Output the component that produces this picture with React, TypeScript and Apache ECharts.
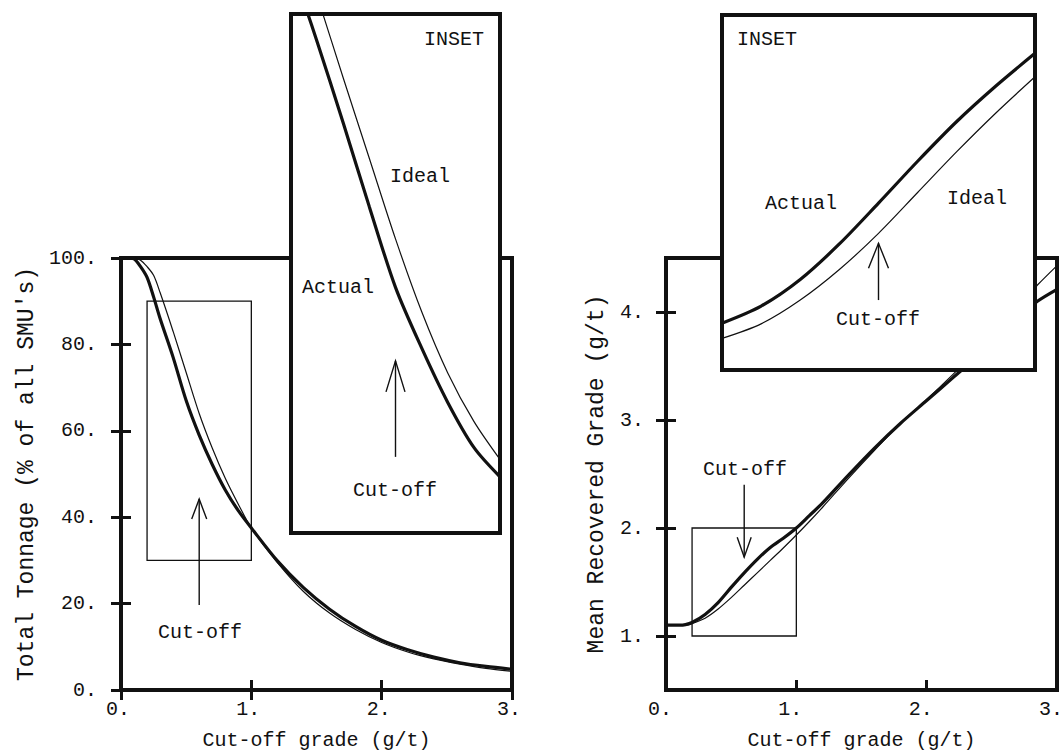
import React, { useEffect, useRef } from 'react';
import * as echarts from 'echarts';

// ---------- data ----------
// Left panel: total tonnage vs cut-off grade
const tonnageX = [0, 0.05, 0.1, 0.15, 0.2, 0.25, 0.3, 0.4, 0.5, 0.6, 0.7, 0.8, 0.9, 1.0, 1.2, 1.4, 1.6, 1.8, 2.0, 2.2, 2.4, 2.6, 2.8, 3.0];
const tonnageActual = [100, 100, 99.8, 98, 95.5, 91, 86, 77, 67, 59, 52.2, 46.3, 41.5, 37.5, 29.9, 23.7, 18.7, 14.7, 11.5, 9.3, 7.6, 6.3, 5.45, 4.8];
const tonnageIdeal = [100, 100, 100, 99.5, 98, 96, 92, 83, 73.5, 64, 56, 49, 43, 37.5, 29.5, 22.8, 17.8, 14.0, 11.0, 8.8, 7.2, 6.0, 5.0, 4.3];

// Left inset (zoom of box 0.2-1.0 x 30-90)
const tonnageInsetX = [0.25, 0.3, 0.4, 0.5, 0.6, 0.7, 0.8, 0.9, 1.0];
const tonnageInsetActual = [91.3, 86.8, 77.4, 67.7, 58.4, 51.4, 45.1, 39.9, 36.5];
const tonnageInsetIdeal = [96.8, 92.1, 82.6, 73.3, 64.0, 55.6, 48.5, 42.9, 38.5];

// Right panel: mean recovered grade vs cut-off grade
const gradeX = [0, 0.1, 0.15, 0.2, 0.3, 0.4, 0.5, 0.6, 0.7, 0.8, 0.9, 1.0, 1.1, 1.2, 1.4, 1.6, 1.8, 2.0, 2.2, 2.4, 2.6, 2.8, 2.85, 3.0];
const gradeActual = [1.10, 1.10, 1.105, 1.125, 1.20, 1.31, 1.45, 1.585, 1.71, 1.82, 1.905, 2.0, 2.115, 2.23, 2.49, 2.74, 2.97, 3.18, 3.39, 3.60, 3.82, 4.04, 4.10, 4.21];
const gradeIdeal = [1.10, 1.10, 1.10, 1.115, 1.165, 1.25, 1.355, 1.47, 1.585, 1.70, 1.815, 1.935, 2.06, 2.19, 2.46, 2.72, 2.97, 3.19, 3.42, 3.66, 3.92, 4.18, 4.25, 4.43];

// Right inset (zoom of box 0.2-1.0 x 1-2)
const gradeInsetX = [0.2, 0.3, 0.4, 0.5, 0.6, 0.7, 0.8, 0.9, 1.0];
const gradeInsetActual = [1.132, 1.18, 1.255, 1.355, 1.47, 1.588, 1.70, 1.80, 1.892];
const gradeInsetIdeal = [1.089, 1.13, 1.197, 1.283, 1.385, 1.50, 1.615, 1.724, 1.826];

// axis ranges / ticks
const xTicks = [0, 1, 2, 3];
const tonnageTicks = [0, 20, 40, 60, 80, 100];
const gradeTicks = [1, 2, 3, 4];

// zoom boxes [x0, x1, y0, y1]
const tonnageBox = [0.2, 1.0, 30, 90];
const gradeBox = [0.2, 1.0, 1, 2];

// cut-off arrows [x, tipY, tailY]
const tonnageArrow = [0.6, 44.2, 19.7];
const tonnageInsetArrow = [0.6, 49.9, 38.8];
const gradeArrow = [0.6, 1.73, 2.40];
const gradeInsetArrow = [0.6, 1.357, 1.197];

// ---------- styling ----------
const FONT = "'Liberation Mono', 'DejaVu Sans Mono', monospace";
const INK = '#111';

const pairs = (xs: number[], ys: number[]) => xs.map((x, i) => [x, ys[i]]);

function lineSeries(xi: number, yi: number, xs: number[], ys: number[], width: number, z: number, name: string) {
  return {
    type: 'line', name, xAxisIndex: xi, yAxisIndex: yi, z,
    data: pairs(xs, ys), showSymbol: false, symbol: 'none',
    smooth: 0.3, clip: true,
    lineStyle: { color: INK, width }, silent: true,
  };
}

function arrowSeries(xi: number, yi: number, a: number[], wingW: number, wingH: number, z: number) {
  return {
    type: 'custom', xAxisIndex: xi, yAxisIndex: yi, z, silent: true, clip: false,
    data: [a],
    renderItem: (_p: any, api: any) => {
      const tip = api.coord([api.value(0), api.value(1)]);
      const tail = api.coord([api.value(0), api.value(2)]);
      const dir = tail[1] > tip[1] ? 1 : -1;
      return {
        type: 'group',
        children: [
          { type: 'line', shape: { x1: tail[0], y1: tail[1], x2: tip[0], y2: tip[1] }, style: { stroke: INK, lineWidth: 1.4 } },
          { type: 'polyline', shape: { points: [[tip[0] - wingW, tip[1] + dir * wingH], [tip[0], tip[1]], [tip[0] + wingW, tip[1] + dir * wingH]] }, style: { stroke: INK, fill: null, lineWidth: 1.4 } },
        ],
      };
    },
  };
}

function boxSeries(xi: number, yi: number, b: number[], z: number) {
  return {
    type: 'custom', xAxisIndex: xi, yAxisIndex: yi, z, silent: true, clip: false,
    data: [b],
    renderItem: (_p: any, api: any) => {
      const p0 = api.coord([api.value(0), api.value(3)]);
      const p1 = api.coord([api.value(1), api.value(2)]);
      return {
        type: 'rect',
        shape: { x: p0[0], y: p0[1], width: p1[0] - p0[0], height: p1[1] - p0[1] },
        style: { fill: null, stroke: INK, lineWidth: 1.3 },
      };
    },
  };
}

const tickStyle = { show: true, inside: true, length: 10, lineStyle: { color: INK, width: 3 } };
const labelStyle = { color: INK, fontFamily: FONT, fontSize: 20 };

function mainX(grid: number, position: 'top' | 'bottom', withLabels: boolean, shift: number) {
  return {
    type: 'value', gridIndex: grid, position, min: xTicks[0], max: xTicks[xTicks.length - 1], interval: 1,
    axisLine: { show: false }, splitLine: { show: false },
    axisTick: tickStyle,
    axisLabel: withLabels
      ? { ...labelStyle, margin: 9, padding: [0, shift, 0, 0], formatter: (v: number) => `${v}.` }
      : { show: false },
    name: withLabels ? 'Cut-off grade (g/t)' : '',
    nameLocation: 'middle', nameGap: 40,
    nameTextStyle: { color: INK, fontFamily: FONT, fontSize: 20 },
  };
}

function hiddenAxis(grid: number, min: number, max: number) {
  return { type: 'value', gridIndex: grid, min, max, show: false, splitLine: { show: false } };
}

const gridBase = { show: true, borderColor: INK, borderWidth: 4, outerBoundsMode: 'none', containLabel: false };

const option: any = {
  animation: false,
  backgroundColor: '#fff',
  grid: [
    { ...gridBase, left: 121, top: 258, width: 391, height: 432, z: 0 },
    { ...gridBase, left: 291, top: 14, width: 209, height: 519, z: 5, backgroundColor: '#fff' },
    { ...gridBase, left: 666, top: 258, width: 391, height: 432, z: 0 },
    { ...gridBase, left: 722, top: 15, width: 313, height: 355, z: 5, backgroundColor: '#fff' },
  ],
  xAxis: [
    mainX(0, 'bottom', true, 6),
    mainX(0, 'top', false, 0),
    hiddenAxis(1, 0.2, 1.0),
    mainX(2, 'bottom', true, 12),
    mainX(2, 'top', false, 0),
    hiddenAxis(3, 0.2, 1.0),
  ],
  yAxis: [
    {
      type: 'value', gridIndex: 0, position: 'left', min: tonnageTicks[0], max: tonnageTicks[tonnageTicks.length - 1], interval: 20,
      axisLine: { show: false }, splitLine: { show: false }, axisTick: tickStyle,
      axisLabel: { ...labelStyle, margin: 24, formatter: (v: number) => `${v}.` },
      name: "Total Tonnage (% of all SMU's)", nameLocation: 'middle', nameGap: 83,
      nameTextStyle: { color: INK, fontFamily: FONT, fontSize: 23 },
    },
    {
      type: 'value', gridIndex: 0, position: 'right', min: 0, max: 100, interval: 20,
      axisLine: { show: false }, splitLine: { show: false }, axisTick: tickStyle, axisLabel: { show: false },
    },
    hiddenAxis(1, 30, 90),
    {
      type: 'value', gridIndex: 2, position: 'left', min: 0.5, max: 4.5,
      axisLine: { show: false }, splitLine: { show: false },
      axisTick: { ...tickStyle, customValues: gradeTicks },
      axisLabel: { ...labelStyle, margin: 22, customValues: gradeTicks, formatter: (v: number) => `${v}.` },
      name: 'Mean Recovered Grade (g/t)', nameLocation: 'middle', nameGap: 58,
      nameTextStyle: { color: INK, fontFamily: FONT, fontSize: 23 },
    },
    {
      type: 'value', gridIndex: 2, position: 'right', min: 0.5, max: 4.5,
      axisLine: { show: false }, splitLine: { show: false },
      axisTick: { ...tickStyle, customValues: gradeTicks }, axisLabel: { show: false, customValues: gradeTicks },
    },
    hiddenAxis(3, 1, 2),
  ],
  series: [
    lineSeries(0, 0, tonnageX, tonnageIdeal, 1.2, 2, 'Ideal'),
    lineSeries(0, 0, tonnageX, tonnageActual, 3.2, 2, 'Actual'),
    boxSeries(0, 0, tonnageBox, 3),
    arrowSeries(0, 0, tonnageArrow, 7.5, 20, 3),
    lineSeries(2, 2, tonnageInsetX, tonnageInsetIdeal, 1.2, 6, 'Ideal inset'),
    lineSeries(2, 2, tonnageInsetX, tonnageInsetActual, 3.2, 6, 'Actual inset'),
    arrowSeries(2, 2, tonnageInsetArrow, 9.5, 31, 6),

    lineSeries(3, 3, gradeX, gradeIdeal, 1.2, 2, 'Ideal'),
    lineSeries(3, 3, gradeX, gradeActual, 3.2, 2, 'Actual'),
    boxSeries(3, 3, gradeBox, 3),
    arrowSeries(3, 3, gradeArrow, 7, 20, 3),
    lineSeries(5, 5, gradeInsetX, gradeInsetIdeal, 1.2, 6, 'Ideal inset'),
    lineSeries(5, 5, gradeInsetX, gradeInsetActual, 3.2, 6, 'Actual inset'),
    arrowSeries(5, 5, gradeInsetArrow, 10, 25, 6),
  ],
  graphic: [
    ['Cut-off', 200, 632],
    ['INSET', 454, 39],
    ['Ideal', 420, 176],
    ['Actual', 338, 287],
    ['Cut-off', 395, 490],
    ['Cut-off', 745, 469],
    ['INSET', 767, 39],
    ['Actual', 801, 203],
    ['Ideal', 977, 198],
    ['Cut-off', 878, 319],
  ].map(([t, x, y]) => ({
    type: 'text', x, y, z: 50, silent: true,
    style: {
      text: t, fill: INK, font: `20px ${FONT}`,
      textAlign: 'center', textVerticalAlign: 'middle', align: 'center', verticalAlign: 'middle',
    },
  })),
};

export default function App() {
  const ref = useRef<HTMLDivElement>(null);
  useEffect(() => {
    const chart = echarts.init(ref.current!, null, { renderer: 'svg' });
    chart.setOption(option);
    return () => chart.dispose();
  }, []);
  return (
    <div
      ref={ref}
      style={{ position: 'absolute', left: 0, top: 0, width: 1064, height: 752, background: '#fff' }}
    />
  );
}
